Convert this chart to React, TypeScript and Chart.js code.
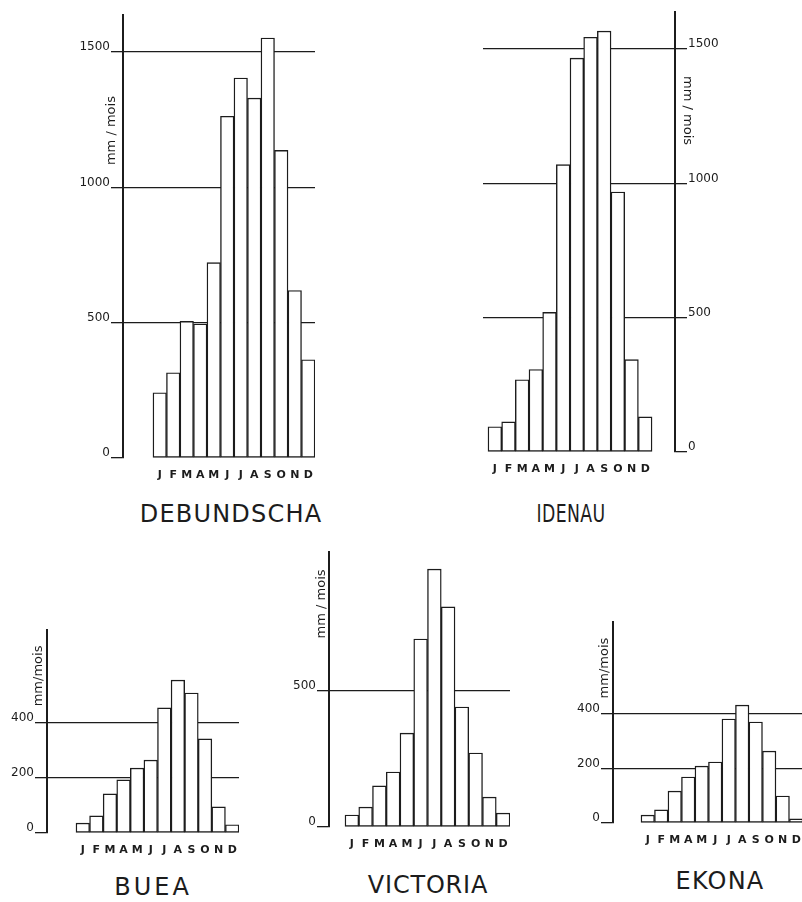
import React, { useEffect, useRef } from 'react';
import { Chart, registerables } from 'chart.js';

Chart.register(...registerables);

// ---------- data ----------
const MONTHS = ['J', 'F', 'M', 'A', 'M', 'J', 'J', 'A', 'S', 'O', 'N', 'D'];

const DEBUNDSCHA = [241, 315, 505, 495, 722, 1263, 1404, 1330, 1552, 1137, 619, 363];
const IDENAU = [94, 112, 269, 307, 520, 1070, 1466, 1544, 1567, 968, 344, 131];
const BUEA = [36, 62, 142, 193, 236, 265, 455, 556, 509, 342, 95, 30];
const VICTORIA = [44, 73, 151, 202, 345, 691, 948, 809, 441, 272, 110, 51];
const EKONA = [29, 48, 117, 169, 209, 224, 382, 433, 371, 264, 99, 15];

const TICKS_1500 = [0, 500, 1000, 1500];
const TICKS_400 = [0, 200, 400];
const TICKS_500 = [0, 500];

const Y_MAX_BIG = 1637;
const Y_MAX_VICTORIA = 1011;
const Y_MAX_SMALL = 738;

// ---------- layout ----------
const WY = 60;
const HX = 24;
const PADT = 12;
const INK = '#1c1c1c';

type Panel = {
  name: string;
  values: number[];
  ticks: number[];
  yMax: number;
  side: 'left' | 'right';
  axisX: number;
  topY: number;
  zeroY: number;
  xMin: number;
  xMax: number;
  farX: number;
  yLabel: string;
  yLabelValue: number;
  yLabelDx: number;
  titleX: number;
  titleY: number;
  titleSpacing: number;
  titleScaleX: number;
};

const PANELS: Panel[] = [
  {
    name: 'DEBUNDSCHA', values: DEBUNDSCHA, ticks: TICKS_1500, yMax: Y_MAX_BIG,
    side: 'left', axisX: 123, topY: 15, zeroY: 458, xMin: -1.72, xMax: 12.5, farX: 315,
    yLabel: 'mm / mois', yLabelValue: 1210, yLabelDx: 11,
    titleX: 231, titleY: 514, titleSpacing: 1.2, titleScaleX: 1,
  },
  {
    name: 'IDENAU', values: IDENAU, ticks: TICKS_1500, yMax: 1638,
    side: 'right', axisX: 675, topY: 12, zeroY: 452, xMin: 0.134, xMax: 14.18, farX: 483,
    yLabel: 'mm / mois', yLabelValue: 1271, yLabelDx: 12,
    titleX: 571, titleY: 514, titleSpacing: 0.5, titleScaleX: 0.72,
  },
  {
    name: 'BUEA', values: BUEA, ticks: TICKS_400, yMax: Y_MAX_SMALL,
    side: 'left', axisX: 47, topY: 630, zeroY: 833, xMin: -1.635, xMax: 12.5, farX: 239,
    yLabel: 'mm/mois', yLabelValue: 571, yLabelDx: 8,
    titleX: 153, titleY: 887, titleSpacing: 3, titleScaleX: 1,
  },
  {
    name: 'VICTORIA', values: VICTORIA, ticks: TICKS_500, yMax: Y_MAX_VICTORIA,
    side: 'left', axisX: 329, topY: 552, zeroY: 827, xMin: -0.664, xMax: 12.5, farX: 510,
    yLabel: 'mm / mois', yLabelValue: 820, yLabelDx: 7,
    titleX: 428, titleY: 885, titleSpacing: 0.8, titleScaleX: 1,
  },
  {
    name: 'EKONA', values: EKONA, ticks: TICKS_400, yMax: Y_MAX_SMALL,
    side: 'left', axisX: 613, topY: 622, zeroY: 823, xMin: -1.574, xMax: 12.43, farX: 802,
    yLabel: 'mm/mois', yLabelValue: 569, yLabelDx: 8,
    titleX: 720, titleY: 881, titleSpacing: 1.2, titleScaleX: 1,
  },
];

function geometry(p: Panel) {
  const plotW = Math.abs(p.axisX - p.farX);
  const height = PADT + (p.zeroY - p.topY) + HX;
  const top = p.topY - PADT;
  if (p.side === 'left') {
    return { left: p.axisX - WY, top, width: WY + plotW + 3, height, padding: { top: PADT, right: 3, left: 0, bottom: 0 } };
  }
  return { left: p.farX - 3, top, width: 3 + plotW + WY, height, padding: { top: PADT, right: 0, left: 3, bottom: 0 } };
}

function BarPanel({ p }: { p: Panel }) {
  const ref = useRef<HTMLCanvasElement>(null);
  const g = geometry(p);

  useEffect(() => {
    if (!ref.current) return;
    const yLabelPlugin = {
      id: 'yLabel' + p.name,
      afterDraw(chart: any) {
        const ctx = chart.ctx;
        const ys = chart.scales.y;
        const yPix = ys.getPixelForValue(p.yLabelValue);
        const x = p.side === 'left' ? chart.chartArea.left - p.yLabelDx : chart.chartArea.right + p.yLabelDx;
        ctx.save();
        ctx.translate(x, yPix);
        ctx.rotate(p.side === 'left' ? -Math.PI / 2 : Math.PI / 2);
        ctx.font = '13px "DejaVu Sans"';
        ctx.fillStyle = INK;
        ctx.textAlign = 'center';
        ctx.textBaseline = 'middle';
        ctx.fillText(p.yLabel, 0, 0);
        ctx.restore();
      },
    };

    const chart = new Chart(ref.current, {
      type: 'bar',
      data: {
        datasets: [
          {
            data: p.values.map((v, i) => ({ x: i + 1, y: v })),
            backgroundColor: '#ffffff',
            borderColor: INK,
            borderWidth: 1.4,
            borderSkipped: false,
            barPercentage: 1,
            categoryPercentage: 1,
          } as any,
        ],
      },
      options: {
        responsive: false,
        animation: false,
        events: [],
        layout: { padding: g.padding },
        plugins: {
          legend: { display: false },
          tooltip: { enabled: false },
          title: { display: false },
        },
        scales: {
          x: {
            type: 'linear',
            min: p.xMin,
            max: p.xMax,
            offset: false,
            afterBuildTicks: (s: any) => {
              s.ticks = MONTHS.map((_, i) => ({ value: i + 1 }));
            },
            afterFit: (s: any) => {
              s.height = HX;
            },
            grid: { display: false },
            border: { display: false },
            ticks: {
              autoSkip: false,
              maxRotation: 0,
              minRotation: 0,
              padding: 3,
              color: INK,
              font: { family: '"DejaVu Sans"', size: 11, weight: 'bold' },
              callback: (_v: any, i: number) => MONTHS[i],
            },
          },
          y: {
            type: 'linear',
            position: p.side,
            min: 0,
            max: p.yMax,
            afterBuildTicks: (s: any) => {
              s.ticks = p.ticks.map((v) => ({ value: v }));
            },
            afterFit: (s: any) => {
              s.width = WY;
            },
            grid: {
              color: (c: any) => (c.tick && c.tick.value === 0 ? 'rgba(0,0,0,0)' : INK),
              tickColor: INK,
              lineWidth: 1.3,
              tickLength: 12,
              drawTicks: true,
            },
            border: { display: true, color: INK, width: 2 },
            ticks: {
              padding: 1,
              labelOffset: -5,
              color: INK,
              font: { family: '"DejaVu Sans"', size: 12 },
              callback: (v: any) => String(v),
            },
          },
        },
      } as any,
      plugins: [yLabelPlugin],
    });
    return () => chart.destroy();
  }, []);

  return (
    <div style={{ position: 'absolute', left: g.left, top: g.top, width: g.width, height: g.height }}>
      <canvas ref={ref} width={g.width} height={g.height} style={{ display: 'block', width: g.width, height: g.height }} />
    </div>
  );
}

function Title({ p }: { p: Panel }) {
  return (
    <div
      style={{
        position: 'absolute',
        left: p.titleX,
        top: p.titleY,
        transform: `translate(-50%, -50%) scaleX(${p.titleScaleX})`,
        fontFamily: '"DejaVu Sans", sans-serif',
        fontSize: 24,
        lineHeight: 1,
        letterSpacing: p.titleSpacing,
        color: INK,
        whiteSpace: 'nowrap',
      }}
    >
      {p.name}
    </div>
  );
}

export default function App() {
  return (
    <div style={{ position: 'absolute', left: 0, top: 0, width: 802, height: 902, overflow: 'hidden', background: '#ffffff' }}>
      {PANELS.map((p) => (
        <React.Fragment key={p.name}>
          <BarPanel p={p} />
          <Title p={p} />
        </React.Fragment>
      ))}
    </div>
  );
}
